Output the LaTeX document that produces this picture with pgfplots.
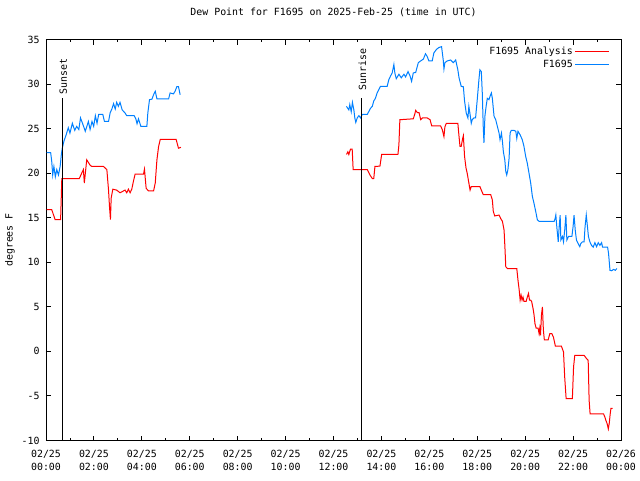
\documentclass[border=0pt]{standalone}
\usepackage{pgfplots}
\pgfplotsset{compat=1.18}
\usepackage{fontspec}
\setmainfont{DejaVu Sans Mono}
\definecolor{gpred}{RGB}{255,0,0}
\definecolor{gpblue}{RGB}{0,128,255}
\begin{document}
\fontsize{9.9}{13}\selectfont
\begin{tikzpicture}
\useasboundingbox (0,0) rectangle (640pt,480pt);
\begin{axis}[
  at={(46pt,39.5pt)}, anchor=south west,
  scale only axis, width=575pt, height=401pt,
  xmin=0, xmax=24, ymin=-10, ymax=35,
  axis line style={line width=0.9pt},
  every tick/.style={black, line width=0.9pt},
  tick align=inside,
  major tick length=5pt, minor tick length=2.5pt,
  xtick={0,2,...,24}, minor x tick num=1,
  xticklabels={{02/25\\00:00},{02/25\\02:00},{02/25\\04:00},{02/25\\06:00},{02/25\\08:00},{02/25\\10:00},{02/25\\12:00},{02/25\\14:00},{02/25\\16:00},{02/25\\18:00},{02/25\\20:00},{02/25\\22:00},{02/26\\00:00}},
  xticklabel style={align=center, font=\fontsize{9.9}{13}\selectfont, yshift=-6.5pt},
  ytick={-10,-5,...,35},
  yticklabel style={font=\fontsize{9.9}{13}\selectfont, xshift=-3pt},
  /pgf/number format/assume math mode=true,
  title={Dew Point for F1695 on 2025-Feb-25 (time in UTC)},
  title style={at={(axis description cs:0.5,1)}, anchor=center, yshift=21pt, font=\fontsize{9.9}{13}\selectfont},
  ylabel={degrees F},
  ylabel style={at={(axis description cs:-0.0626,0.5)}, anchor=center, rotate=0, font=\fontsize{9.9}{13}\selectfont},
  unbounded coords=jump,
  legend style={draw=none, fill=none, at={(rel axis cs:1,1)}, anchor=north east, xshift=-8pt, yshift=-3pt, legend cell align=right, row sep=0pt, font=\fontsize{9.9}{13}\selectfont},
  legend plot pos=right,
  legend image code/.code={\path (0pt,0pt) -- (5pt,0pt); \draw[#1] (5pt,0pt) -- (34pt,0pt);},
]
\addplot[gpred, line width=1pt] coordinates {
(0.03,15.9)(0.24,15.9)(0.38,14.8)(0.61,14.8)(0.66,19.4)(1.39,19.4)(1.49,20.0)(1.56,20.4)(1.60,18.9)(1.70,21.5)(1.84,20.9)(1.91,20.75)(2.40,20.75)(2.54,20.4)(2.61,18.1)(2.65,16.25)(2.69,14.8)(2.72,17.2)(2.79,18.2)(2.95,18.1)(3.09,17.8)(3.30,18.1)(3.37,17.8)(3.44,18.2)(3.51,17.8)(3.58,18.2)(3.65,19.1)(3.72,19.9)(4.07,19.9)(4.11,20.45)(4.18,18.3)(4.28,18.0)(4.49,18.0)(4.56,18.9)(4.63,21.5)(4.70,23.0)(4.77,23.8)(5.43,23.8)(5.49,23.2)(5.53,22.8)(5.63,22.9)
(9,nan)
(12.54,22.1)(12.60,22.4)(12.64,22.1)(12.71,22.7)(12.78,22.7)(12.82,20.4)(13.41,20.4)(13.52,19.8)(13.62,19.4)(13.68,19.4)(13.73,20.75)(13.78,20.75)(13.94,20.8)(14.01,22.1)(14.69,22.1)(14.73,23.2)(14.77,26.0)(15.33,26.1)(15.39,26.6)(15.43,27.05)(15.50,26.8)(15.57,26.8)(15.64,26.0)(15.71,26.2)(15.91,26.2)(16.03,26.0)(16.10,25.3)(16.47,25.3)(16.54,24.9)(16.61,24.1)(16.65,25.2)(16.71,25.6)(17.19,25.6)(17.24,24.1)(17.28,23.0)(17.33,23.0)(17.38,23.75)(17.42,24.2)(17.47,21.9)(17.53,20.6)(17.58,20.0)(17.65,18.9)(17.70,18.1)(17.75,18.5)(18.11,18.5)(18.17,18.1)(18.25,17.6)(18.56,17.6)(18.63,17.0)(18.67,15.7)(18.73,15.2)(18.91,15.3)(18.98,14.9)(19.05,14.6)(19.12,13.6)(19.16,11.4)(19.19,9.5)(19.26,9.3)(19.65,9.3)(19.70,8.0)(19.75,6.9)(19.79,5.75)(19.83,6.3)(19.87,5.75)(19.91,6.1)(19.95,5.6)(20.04,5.6)(20.09,6.1)(20.14,6.5)(20.18,5.75)(20.23,5.75)(20.27,5.6)(20.33,4.8)(20.37,4.1)(20.41,3.1)(20.46,2.6)(20.54,2.6)(20.58,2.0)(20.61,2.6)(20.64,1.8)(20.68,4.1)(20.72,5.0)(20.76,2.4)(20.80,1.3)(20.96,1.3)(21.03,2.0)(21.11,2.0)(21.18,1.6)(21.26,0.6)(21.51,0.6)(21.60,-0.06)(21.65,-2.9)(21.71,-5.3)(21.97,-5.3)(22.02,-1.75)(22.07,-0.45)(22.46,-0.45)(22.56,-0.8)(22.63,-1.0)(22.67,-5.5)(22.71,-7.0)(23.27,-7.0)(23.33,-7.4)(23.37,-7.75)(23.42,-8.1)(23.47,-8.7)(23.51,-8.05)(23.55,-7.0)(23.58,-6.4)(23.65,-6.4)
};
\addlegendentry{F1695 Analysis}
\addplot[gpblue, line width=1pt] coordinates {
(0.03,22.3)(0.195,22.3)(0.24,21.3)(0.28,19.8)(0.33,20.75)(0.39,19.6)(0.45,20.4)(0.52,19.8)(0.59,20.75)(0.64,22.1)(0.68,22.8)(0.75,23.6)(0.84,24.3)(0.93,25.1)(1.00,24.5)(1.10,25.6)(1.20,24.8)(1.28,25.25)(1.37,24.9)(1.44,26.2)(1.53,25.55)(1.64,24.7)(1.77,25.8)(1.84,24.9)(1.92,25.8)(1.99,25.25)(2.06,26.45)(2.13,25.6)(2.20,26.6)(2.37,26.6)(2.44,25.8)(2.61,25.8)(2.68,26.8)(2.75,27.2)(2.82,27.8)(2.89,27.2)(2.95,27.95)(3.02,27.5)(3.09,27.95)(3.18,27.1)(3.30,26.75)(3.37,26.45)(3.68,26.45)(3.75,26.1)(3.80,25.55)(3.86,26.1)(3.96,25.25)(4.21,25.25)(4.25,26.75)(4.32,28.25)(4.42,28.3)(4.49,28.8)(4.56,29.2)(4.63,28.35)(5.12,28.35)(5.18,29.0)(5.32,28.9)(5.39,29.2)(5.46,29.7)(5.53,29.7)(5.60,28.8)
(9,nan)
(12.54,27.5)(12.64,27.1)(12.68,27.7)(12.74,26.9)(12.79,27.95)(12.85,27.1)(12.89,26.2)(12.93,25.7)(12.99,26.2)(13.06,26.45)(13.13,26.2)(13.20,26.6)(13.41,26.6)(13.55,27.3)(13.62,27.5)(13.68,28.1)(13.75,28.4)(13.82,29.0)(13.96,29.75)(14.24,29.75)(14.31,30.5)(14.38,30.9)(14.45,31.25)(14.52,32.2)(14.56,31.25)(14.62,30.6)(14.73,31.1)(14.83,30.7)(14.94,31.1)(15.01,30.8)(15.11,31.4)(15.19,30.95)(15.26,30.3)(15.33,31.25)(15.43,31.3)(15.54,32.4)(15.64,32.6)(15.75,32.8)(15.84,33.4)(15.91,33.1)(15.98,32.6)(16.12,32.6)(16.19,33.5)(16.30,33.9)(16.40,34.1)(16.51,34.2)(16.58,32.7)(16.61,31.7)(16.65,32.4)(16.75,32.6)(16.89,32.7)(17.00,32.4)(17.10,32.7)(17.19,31.6)(17.24,30.7)(17.33,29.75)(17.42,29.7)(17.47,28.1)(17.54,26.75)(17.61,26.2)(17.65,27.5)(17.70,26.6)(17.75,25.6)(17.79,26.0)(17.86,26.2)(17.93,26.2)(18.00,28.25)(18.07,30.5)(18.11,31.6)(18.17,31.4)(18.21,29.0)(18.25,25.25)(18.28,23.4)(18.32,26.4)(18.37,27.5)(18.42,28.4)(18.49,28.25)(18.53,28.6)(18.59,29.0)(18.63,28.4)(18.70,26.4)(18.77,26.0)(18.84,25.25)(18.91,24.5)(18.95,23.75)(19.01,24.5)(19.05,23.6)(19.09,22.4)(19.15,21.5)(19.19,20.2)(19.23,19.8)(19.28,20.4)(19.33,21.7)(19.37,24.5)(19.42,24.8)(19.54,24.8)(19.61,24.7)(19.65,23.9)(19.70,24.7)(19.79,24.3)(19.88,23.75)(19.95,23.0)(20.02,21.9)(20.09,21.1)(20.16,20.0)(20.23,18.9)(20.30,17.4)(20.37,16.6)(20.44,15.7)(20.51,14.75)(20.58,14.6)(21.21,14.6)(21.25,14.9)(21.28,15.3)(21.32,14.0)(21.38,12.3)(21.42,14.0)(21.46,15.3)(21.49,12.5)(21.56,12.9)(21.60,12.3)(21.65,13.6)(21.70,15.3)(21.74,12.5)(21.81,12.9)(21.95,12.9)(22.00,14.0)(22.04,15.3)(22.09,13.6)(22.14,12.5)(22.21,12.1)(22.28,11.75)(22.32,12.1)(22.39,12.3)(22.46,12.3)(22.50,14.0)(22.55,15.3)(22.60,14.0)(22.64,12.9)(22.70,12.3)(22.77,11.9)(22.84,11.7)(22.91,12.2)(22.98,11.75)(23.05,12.2)(23.12,11.9)(23.19,12.2)(23.23,11.7)(23.44,11.7)(23.48,11.0)(23.54,9.1)(23.61,9.05)(23.69,9.2)(23.76,9.1)(23.83,9.3)
};
\addlegendentry{F1695}
\addplot[black, line width=0.9pt, forget plot] coordinates {(0.67,-10) (0.67,28.4)};
\addplot[black, line width=0.9pt, forget plot] coordinates {(13.16,-10) (13.16,28.4)};
\node[rotate=90, anchor=west, inner sep=0pt, font=\fontsize{9.9}{13}\selectfont] at (axis cs:0.72,28.8) {Sunset};
\node[rotate=90, anchor=west, inner sep=0pt, font=\fontsize{9.9}{13}\selectfont] at (axis cs:13.21,29.3) {Sunrise};
\end{axis}
\end{tikzpicture}
\end{document}
